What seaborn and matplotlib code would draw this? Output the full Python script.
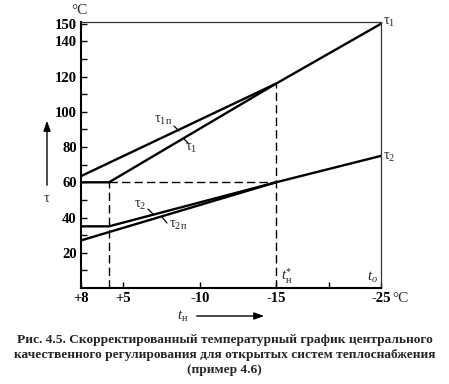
import numpy as np
import matplotlib
matplotlib.use("Agg")
import matplotlib.pyplot as plt
import seaborn as sns

# наружная температура, °C
t_out = [8, 6, -15, -25]        # точки излома графика
t_left = 8
t_break = 6                     # излом (τ1 = 60 °C)
t_star = -15                    # t_н*
t_o = -25                       # расчётная

# температуры воды, °C
tau1 = [60, 60, 116, 150]
tau2 = [35, 35, 60, 75]
tau1p_x = [8, -15]
tau1p = [63.5, 116]
tau2p_x = [8, -15]
tau2p = [27, 60]

x_ticks = [8, 5, -10, -15, -25]
x_labels = ["+8", "+5", "-10", "-15", "-25"]
x_minor = [-20]
y_ticks = [20, 40, 60, 80, 100, 120, 140, 150]
y_minor = [10, 30, 50, 70, 90, 110, 130]

caption = ["Рис. 4.5. Скорректированный температурный график центрального",
           "качественного регулирования для открытых систем теплоснабжения",
           "(пример 4.6)"]

sns.set_theme(style="ticks")
plt.rcParams["font.family"] = ["Liberation Serif", "DejaVu Serif"]
plt.rcParams["mathtext.fontset"] = "custom"
plt.rcParams["mathtext.rm"] = "Liberation Serif"
plt.rcParams["mathtext.it"] = "Liberation Serif:italic"

fig = plt.figure(figsize=(4.49, 3.84), dpi=100)
ax = fig.add_axes([81 / 449, 1 - 288 / 384, 300 / 449, 266 / 384])

lw = 1.7
sns.lineplot(x=t_out, y=tau1, ax=ax, color="black", lw=lw, sort=False, estimator=None)
sns.lineplot(x=t_out, y=tau2, ax=ax, color="black", lw=lw, sort=False, estimator=None)
sns.lineplot(x=tau1p_x, y=tau1p, ax=ax, color="black", lw=lw, sort=False, estimator=None)
sns.lineplot(x=tau2p_x, y=tau2p, ax=ax, color="black", lw=lw, sort=False, estimator=None)

# вспомогательные штриховые линии
dash = dict(color="black", lw=1.0, ls=(0, (6, 3)))
ax.hlines(tau1[1], t_break, t_star, **dash)
ax.vlines(t_break, 0, tau1[1], **dash)
ax.vlines(t_star, 0, tau1[2], **dash)

# ось абсцисс на рисунке неравномерная - повторяем её масштаб
anchor_t = [-25, -15, -10, 5, 8]
anchor_p = [-300, -195, -119, -42, 0]


def fwd(t):
    return np.interp(t, anchor_t, anchor_p)


def inv(p):
    return np.interp(p, anchor_p, anchor_t)


ax.set_xscale("function", functions=(fwd, inv))
ax.set_xlim(t_left, t_o)
ax.set_ylim(0, 151)

ax.set_xticks(x_ticks)
ax.set_xticklabels(x_labels)
ax.set_xticks(x_minor, minor=True)
ax.set_yticks(y_ticks)
ax.set_yticks(y_minor, minor=True)
ax.tick_params(which="both", direction="in", length=4, width=1, color="black",
               labelsize=10.5, pad=3, labelcolor="black")
for lab in ax.get_xticklabels() + ax.get_yticklabels():
    lab.set_fontweight("bold")
ax.set_xlabel("")
ax.set_ylabel("")

for s in ["left", "bottom"]:
    ax.spines[s].set_linewidth(1.5)
    ax.spines[s].set_color("black")
for s in ["top", "right"]:
    ax.spines[s].set_visible(True)
    ax.spines[s].set_linewidth(0.9)
    ax.spines[s].set_color("#333333")

fs = 10.5
# подписи
fig.text(79, 373, "°C", transform=None, ha="center", va="center", fontsize=11)
fig.text(400, 85, "°C", transform=None, ha="center", va="center", fontsize=11)
fig.text(389, 362, r"$\mathrm{τ}_{\mathrm{1}}$", transform=None, ha="center", va="center", fontsize=fs)
fig.text(389, 227, r"$\mathrm{τ}_{\mathrm{2}}$", transform=None, ha="center", va="center", fontsize=fs)
fig.text(287, 108, r"$t_{\mathrm{н}}^{*}$", transform=None, ha="center", va="center", fontsize=fs)
fig.text(372, 107, r"$t_{o}$", transform=None, ha="center", va="center", fontsize=fs)

fig.text(163, 264, r"$\mathrm{τ}_{\mathrm{1п}}$", transform=None, ha="center", va="center", fontsize=fs)
fig.text(191, 236, r"$\mathrm{τ}_{\mathrm{1}}$", transform=None, ha="center", va="center", fontsize=fs)
fig.text(140, 179, r"$\mathrm{τ}_{\mathrm{2}}$", transform=None, ha="center", va="center", fontsize=fs)
fig.text(178, 159, r"$\mathrm{τ}_{\mathrm{2п}}$", transform=None, ha="center", va="center", fontsize=fs)

leaders = [((174, 258), (179, 253)), ((183, 246), (188, 241)),
           ((148, 175), (153, 170)), ((162, 167), (167, 161))]
for a, b in leaders:
    fig.add_artist(plt.Line2D([a[0] / 449, b[0] / 449], [a[1] / 384, b[1] / 384],
                              color="black", lw=0.9))

# стрелки осей
ax.annotate("", xy=(47, 266), xytext=(47, 196), xycoords="figure pixels",
            textcoords="figure pixels",
            arrowprops=dict(arrowstyle="-|>,head_length=0.5,head_width=0.18",
                            color="black", lw=1.0))
fig.text(47, 186, "τ", transform=None, ha="center", va="center", fontsize=fs)
ax.annotate("", xy=(267, 68), xytext=(194, 68), xycoords="figure pixels",
            textcoords="figure pixels",
            arrowprops=dict(arrowstyle="-|>,head_length=0.5,head_width=0.18",
                            color="black", lw=1.0))
fig.text(183, 68, r"$t_{\mathrm{н}}$", transform=None, ha="center", va="center", fontsize=fs)

for i, line in enumerate(caption):
    fig.text(0.5, (44 - 15 * i) / 384, line, ha="center", va="center",
             fontsize=9.6, fontweight="bold")

fig.savefig("out.png", dpi=100)
